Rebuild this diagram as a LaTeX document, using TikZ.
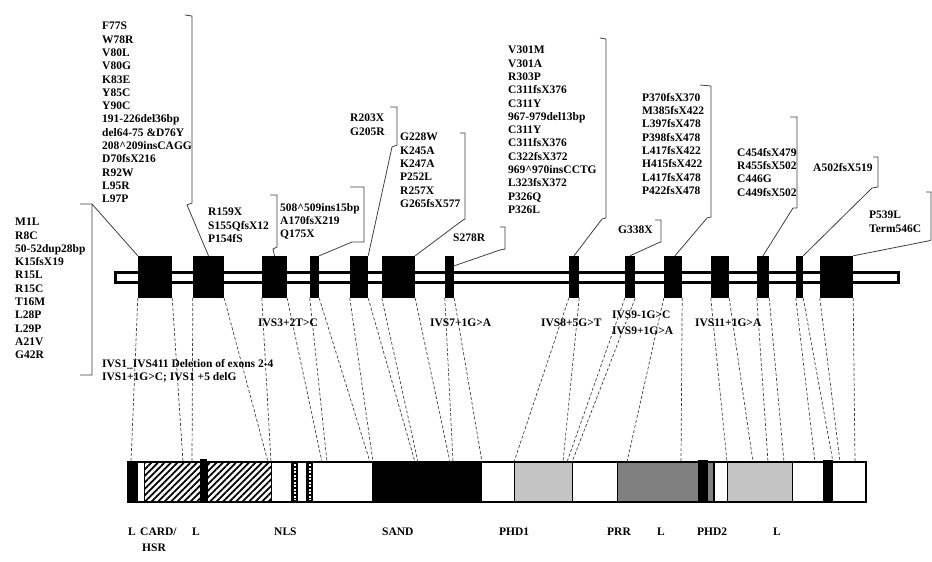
\documentclass[tikz,border=0pt]{standalone}
\usepackage{fontspec}
\setmainfont{Liberation Serif}
\usetikzlibrary{patterns.meta}
\definecolor{PhdGray}{HTML}{C4C4C4}
\definecolor{PrrGray}{HTML}{808080}
\definecolor{LinkGray}{HTML}{404040}

\begin{document}
\begin{tikzpicture}[x=1pt,y=-1pt,
  exon/.style={fill=black,inner sep=0pt,minimum height=42pt},
  lab/.style={font=\fontsize{11.5}{13.3}\selectfont\bfseries,align=left,inner sep=0pt,anchor=north west},
  callout/.style={draw=LinkGray,line width=0.8pt},
  link/.style={draw=LinkGray,line width=0.7pt,dash pattern=on 3pt off 2pt},
  seg/.style={draw=black,line width=1pt},
  hatch/.style={seg,pattern={Lines[angle=45,distance=4.6pt,line width=1.8pt]}}]
  \fill[white] (0,0) rectangle (932,562);
  \useasboundingbox (0,0) rectangle (932,562);

  % gene
  \draw[line width=3pt,fill=white] (115,272.5) rectangle (898,282.5);
  \foreach \n/\x/\w in {1/155/34,2/208.5/31,3/274.5/25,4/314.5/9,5/359/18,6/398.5/33,7/449.5/9,
                        8/574/10,9/630/10,10/673/18,11/720/18,12/763/12,13/799.5/7,14/836.5/33}
    \node[exon,minimum width=\w pt] (e\n) at (\x,277) {};

  % protein
  \fill[black] (128,462) rectangle (137,502);
  \draw[seg,fill=white] (137,462) rectangle (144,502);
  \draw[hatch] (144,462) rectangle (200,502);
  \draw[hatch] (207,462) rectangle (271,502);
  \fill[black] (200,459) rectangle (207,503);
  \draw[seg,fill=white] (271,462) rectangle (372,502);
  \foreach \x in {291,306} {
    \fill[black] (\x,461) rectangle (\x+7,502);
    \draw[white,line width=2pt,dash pattern=on 2pt off 1.5pt] (\x+3.5,464) -- (\x+3.5,500);
  }
  \fill[black] (372,462) rectangle (481,502);
  \draw[seg,fill=white] (481,462) rectangle (514,502);
  \draw[seg,fill=PhdGray] (514,462) rectangle (572,502);
  \draw[seg,fill=white] (572,462) rectangle (617,502);
  \draw[seg,fill=PrrGray] (617,462) rectangle (713,502);
  \fill[black] (698,460) rectangle (708,503);
  \draw[seg,fill=white] (714,462) rectangle (727,502);
  \draw[seg,fill=PhdGray] (727,462) rectangle (792,502);
  \draw[seg,fill=white] (792,462) rectangle (866,502);
  \fill[black] (823,460) rectangle (833,503);
  \draw[line width=2.4pt] (128,462) rectangle (866,502);

  \foreach \e/\a/\b in {1/131/183,2/192/268,3/271/322,4/327/370,5/373/415,6/418/450,7/453/482,
                        8/514/563,9/567/572,10/627/681,11/727/753,12/768/784,13/815/833,14/840/855} {
    \coordinate (pl\e) at (\a,462);
    \coordinate (pr\e) at (\b,462);
    \draw[link] (e\e.south west) -- (pl\e);
    \draw[link] (e\e.south east) -- (pr\e);
  }

  % mutations
  \node[lab] (mut1) at (15,218) {M1L\\R8C\\50-52dup28bp\\K15fsX19\\R15L\\R15C\\T16M\\L28P\\L29P\\A21V\\G42R};
  \node[lab] (mut2) at (102,22) {F77S\\W78R\\V80L\\V80G\\K83E\\Y85C\\Y90C\\191-226del36bp\\del64-75 \&D76Y\\208\textasciicircum209insCAGG\\D70fsX216\\R92W\\L95R\\L97P};
  \node[lab] (mut3) at (208,208) {R159X\\S155QfsX12\\P154fS};
  \node[lab] (mut4) at (280,203) {508\textasciicircum509ins15bp\\A170fsX219\\Q175X};
  \node[lab] (mut5) at (350,114) {R203X\\G205R};
  \node[lab] (mut6) at (400,133) {G228W\\K245A\\K247A\\P252L\\R257X\\G265fsX577};
  \node[lab] (mut7) at (453,234) {S278R};
  \node[lab] (mut8) at (508,46) {V301M\\V301A\\R303P\\C311fsX376\\C311Y\\967-979del13bp\\C311Y\\C311fsX376\\C322fsX372\\969\textasciicircum970insCCTG\\L323fsX372\\P326Q\\P326L};
  \node[lab] (mut9) at (618,226) {G338X};
  \node[lab] (mut10) at (642,93) {P370fsX370\\M385fsX422\\L397fsX478\\P398fsX478\\L417fsX422\\H415fsX422\\L417fsX478\\P422fsX478};
  \node[lab] (mut11) at (737,148) {C454fsX479\\R455fsX502\\C446G\\C449fsX502};
  \node[lab] (mut12) at (813,163) {A502fsX519};
  \node[lab] (mut13) at (869,211) {P539L\\Term546C};

  \draw[callout] (e1.north west) -- (92,204) -- (80,204) (92,204) -- (92,375) -- (80,375);
  \draw[callout] (185,15) -- (192,16) -- (192,203) -- (187,205) -- (e2.north);
  \draw[callout] (270,195) -- (277,195) -- (277,247) -- (273,249) -- (e3.north);
  \draw[callout] (350,187) -- (364,187) -- (364,242) -- (352,242) -- (e4.north east);
  \draw[callout] (390,107) -- (397,107) -- (397,145) -- (392,147) -- (e5.north east);
  \draw[callout] (460,133) -- (465,133) -- (465,219) -- (463,220) -- (e6.north east);
  \draw[callout] (500,227) -- (505,227) -- (505,249) -- (500,250) -- ([yshift=-10pt]e7.north east);
  \draw[callout] (600,38) -- (606,39) -- (606,218) -- (602,219) -- (e8.north);
  \draw[callout] (655,220) -- (661,220) -- (661,242) -- (658,243) -- (e9.north);
  \draw[callout] (700,85) -- (711,86) -- (711,217) -- (707,218) -- ([xshift=2pt]e10.north);
  \draw[callout] (790,117) -- (797,117) -- (797,208) -- (793,208) -- (e12.north);
  \draw[callout] (873,157) -- (878,157) -- (878,187) -- (872,188) -- (e13.north east);
  \draw[callout] (926,192) -- (931,192) -- (931,240) -- (928,241) -- (e14.north east);

  % splice sites
  \node[lab] (ivs1) at (102,359) {IVS1\_IVS411 Deletion of exons 2-4\\IVS1+1G>C; IVS1 +5 delG};
  \node[lab] (ivs3) at (258,319) {IVS3+2T>C};
  \node[lab] (ivs7) at (430,319) {IVS7+1G>A};
  \node[lab] (ivs8) at (541,319) {IVS8+5G>T};
  \node[lab] (ivs9) at (612,311) {IVS9-1G>C\\[2.5pt]IVS9+1G>A};
  \node[lab] (ivs11) at (695,319) {IVS11+1G>A};

  % domains
  \node[lab] (d1) at (128,528) {L};
  \node[lab] (card) at (140,528) {CARD/};
  \node[lab] (hsr) at (142,544) {HSR};
  \node[lab] (d2) at (192,528) {L};
  \node[lab] (nls) at (274,528) {NLS};
  \node[lab] (sand) at (382,528) {SAND};
  \node[lab] (phd1) at (499,528) {PHD1};
  \node[lab] (prr) at (607,528) {PRR};
  \node[lab] (d3) at (657,528) {L};
  \node[lab] (phd2) at (697,528) {PHD2};
  \node[lab] (d4) at (773,528) {L};
\end{tikzpicture}
\end{document}
